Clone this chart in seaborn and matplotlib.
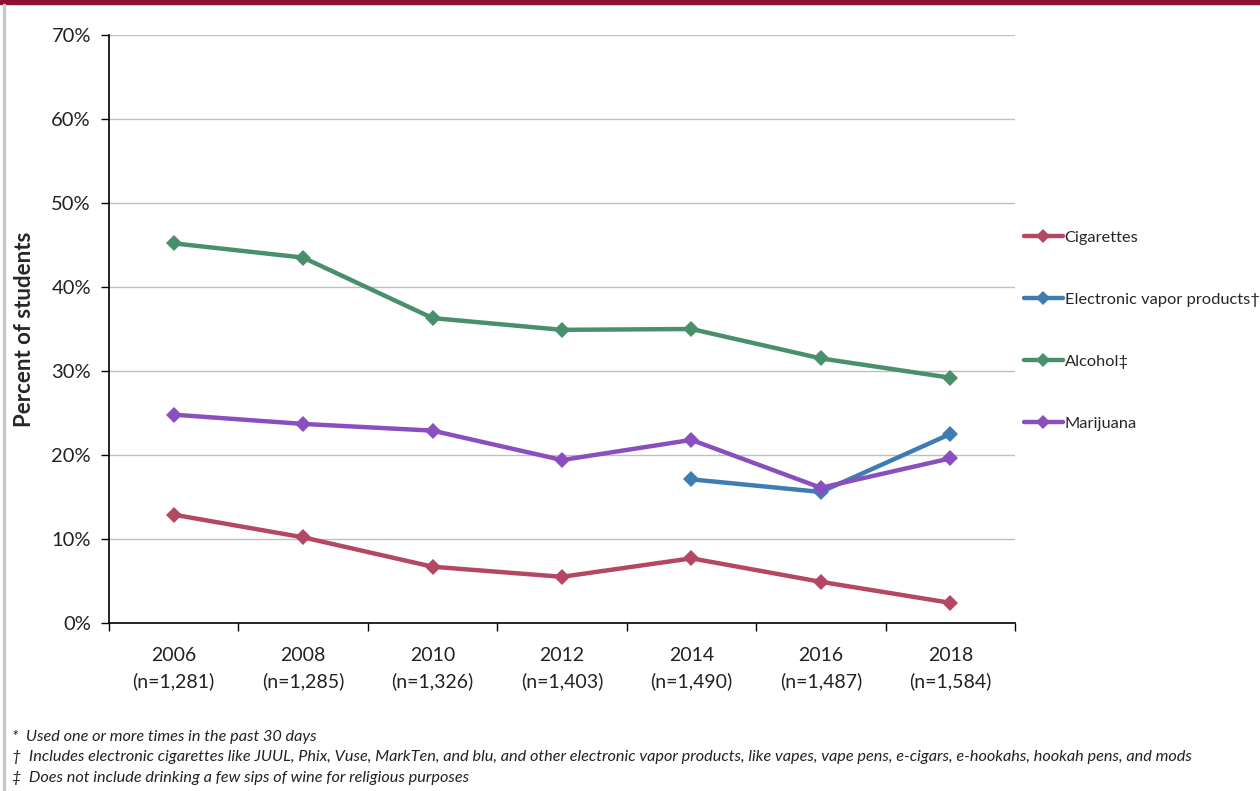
import matplotlib
matplotlib.use("Agg")
import matplotlib.pyplot as plt
from matplotlib.lines import Line2D
from matplotlib.patches import Rectangle
import seaborn as sns
import pandas as pd
import numpy as np

years = ["2006", "2008", "2010", "2012", "2014", "2016", "2018"]
sample_sizes = ["1,281", "1,285", "1,326", "1,403", "1,490", "1,487", "1,584"]
cigarettes = [12.9, 10.2, 6.7, 5.5, 7.7, 4.9, 2.4]
vapor = [None, None, None, None, 17.1, 15.6, 22.5]
alcohol = [45.2, 43.5, 36.3, 34.9, 35.0, 31.5, 29.2]
marijuana = [24.8, 23.7, 22.9, 19.4, 21.8, 16.1, 19.6]
series_names = ["Cigarettes", "Electronic vapor products\u2020", "Alcohol\u2021", "Marijuana"]
colors = ["#B44862", "#3F7CB3", "#4A8F6C", "#8A4FBE"]
footnotes = [
    "*  Used one or more times in the past 30 days",
    "\u2020  Includes electronic cigarettes like JUUL, Phix, Vuse, MarkTen, and blu, and other electronic vapor products, like vapes, vape pens, e-cigars, e-hookahs, hookah pens, and mods",
    "\u2021  Does not include drinking a few sips of wine for religious purposes",
]

rows = []
for name, vals in zip(series_names, [cigarettes, vapor, alcohol, marijuana]):
    for i, v in enumerate(vals):
        if v is not None:
            rows.append({"pos": i, "value": v, "series": name})
df = pd.DataFrame(rows)

sns.set_style("white")
plt.rcParams["font.family"] = ["Lato", "DejaVu Sans"]

fig = plt.figure(figsize=(12.6, 7.91), dpi=100)
ax = fig.add_axes([109/1260, 1 - 623/791, (1015-109)/1260, (623-35)/791])

sns.lineplot(data=df, x="pos", y="value", hue="series", hue_order=series_names,
             palette=colors, marker="D", markersize=8, markeredgewidth=0,
             linewidth=3.2, ax=ax, legend=False)

ax.set_xlim(-0.5, 6.5)
ax.set_ylim(0, 70)
ax.set_yticks(np.arange(0, 71, 10))
ax.set_yticklabels([f"{v}%" for v in range(0, 71, 10)], fontsize=14.5, color="#222222")
ax.yaxis.grid(True, color="#BFBFBF", linewidth=1)
ax.set_axisbelow(True)
ax.set_xticks(np.arange(-0.5, 7, 1))
ax.set_xticklabels([])
ax.set_xticks(np.arange(0, 7), minor=True)
ax.set_xticklabels([f"{y}\n(n={n})" for y, n in zip(years, sample_sizes)], minor=True,
                   fontsize=14, color="#222222", linespacing=1.55)
ax.tick_params(axis="x", which="major", direction="out", length=6, width=1, color="black", bottom=True)
ax.tick_params(axis="x", which="minor", length=0, pad=17)
ax.tick_params(axis="y", which="major", direction="out", length=6, width=1, color="black", left=True, pad=7)
for s in ["top", "right"]:
    ax.spines[s].set_visible(False)
for s in ["left", "bottom"]:
    ax.spines[s].set_color("black")
    ax.spines[s].set_linewidth(1.2)
ax.set_xlabel("")
ax.set_ylabel("Percent of students", fontsize=16, fontweight="bold", labelpad=12)

handles = [Line2D([0], [0], color=c, linewidth=3.2, marker="D", markersize=7, markeredgewidth=0)
           for c in colors]
ax.legend(handles, series_names, loc="upper left", bbox_to_anchor=(0.997, 1 - (219 - 35)/588),
          frameon=False, fontsize=11.8, handlelength=2.4, handletextpad=0.1,
          labelspacing=2.9, borderaxespad=0.5, borderpad=0.2)

fig.patches.append(Rectangle((0, 1 - 4/791), 1, 4/791, transform=fig.transFigure,
                             color="#8C1230", zorder=10))
fig.patches.append(Rectangle((3/1260, 0), 2/1260, 1 - 4/791, transform=fig.transFigure,
                             color="#C8C8C8", zorder=10))

for i, t in enumerate(footnotes):
    fig.text(12/1260, 1 - (737 + i*20.5)/791, t, fontsize=11.7, style="italic",
             color="#222222", va="center", ha="left")

fig.savefig("out.png", dpi=100)
